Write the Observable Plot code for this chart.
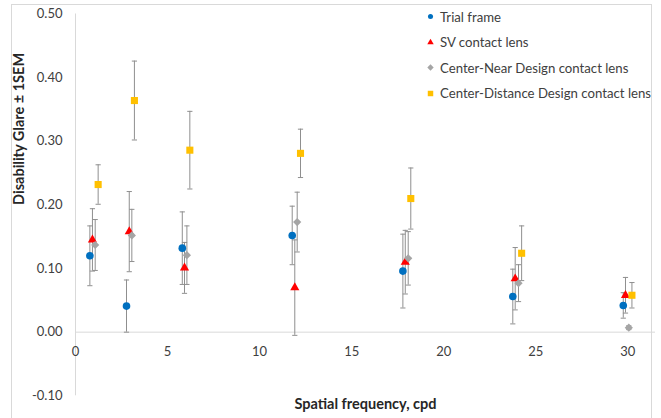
<!DOCTYPE html>
<html>
<head>
<meta charset="utf-8">
<script src="https://cdn.jsdelivr.net/npm/d3@7"></script>
<script src="https://cdn.jsdelivr.net/npm/@observablehq/plot@0.6"></script>
<style>
  body { margin: 0; background: #fff; }
  #wrap { position: relative; width: 661px; height: 418px; overflow: hidden; font-family: Lato, "Liberation Sans", sans-serif; }
  #border { position: absolute; left: 11px; top: 4px; width: 639px; height: 430px; border: 1px solid #d9d9d9; pointer-events: none; }
  #legend { position: absolute; left: 426px; top: 4px; font-size: 13.2px; color: #404040; }
  #legend .row { height: 25.5px; display: flex; align-items: center; white-space: nowrap; }
  #legend svg { margin-right: 5px; }
</style>
</head>
<body>
<div id="wrap"><div id="border"></div><div id="legend"></div></div>
<script>
// ---- data ----
const seriesNames = ["Trial frame", "SV contact lens", "Center-Near Design contact lens", "Center-Distance Design contact lens"];
const seriesColors = ["#0070C0", "#FF0000", "#A5A5A5", "#FFC000"];
const seriesSymbols = ["circle", "triangle", "diamond2", "square"];

const xTrial = [0.78, 2.77, 5.80, 11.77, 17.78, 23.75, 29.75];
const yTrial = [0.120, 0.041, 0.132, 0.152, 0.096, 0.056, 0.042];
const eTrial = [0.047, 0.041, 0.057, 0.046, 0.058, 0.043, 0.020];

const xSV = [0.92, 2.92, 5.92, 11.91, 17.91, 23.88, 29.87];
const ySV = [0.145, 0.158, 0.101, 0.070, 0.110, 0.084, 0.058];
const eSV = [0.049, 0.063, 0.040, 0.075, 0.050, 0.049, 0.028];

const xCN = [1.07, 3.06, 6.05, 12.04, 18.07, 24.06, 30.05];
const yCN = [0.137, 0.152, 0.121, 0.173, 0.116, 0.077, 0.007];
const eCN = [0.040, 0.041, 0.046, 0.047, 0.042, 0.029, 0.003];

const xCD = [1.23, 3.20, 6.21, 12.22, 18.21, 24.23, 30.22];
const yCD = [0.232, 0.364, 0.286, 0.281, 0.210, 0.124, 0.058];
const eCD = [0.031, 0.062, 0.061, 0.038, 0.048, 0.043, 0.020];

const xTicks = [0, 5, 10, 15, 20, 25, 30];
const yTicks = [-0.1, 0, 0.1, 0.2, 0.3, 0.4, 0.5];
const xLabel = "Spatial frequency, cpd";
const yLabel = "Disability Glare ± 1SEM";

// ---- build table ----
const groups = [[xTrial, yTrial, eTrial], [xSV, ySV, eSV], [xCN, yCN, eCN], [xCD, yCD, eCD]];
const rows = [];
groups.forEach(([xs, ys, es], s) => {
  xs.forEach((x, i) => rows.push({s, x, y: ys[i], lo: ys[i] - es[i], hi: ys[i] + es[i]}));
});

const capSymbol = { draw(ctx, size) { const w = 2.6; ctx.moveTo(-w, 0); ctx.lineTo(w, 0); } };
const errColor = "#8f8f8f";

const marks = [
  Plot.ruleX([0], {stroke: "#d9d9d9"}),
  Plot.ruleY([0], {stroke: "#d9d9d9"}),
  Plot.axisY(yTicks, {tickSize: 0, tickPadding: 13, tickFormat: d => d.toFixed(2), fontSize: 13, fill: "#404040", label: null}),
  Plot.text(xTicks, {x: d => d, y: 0, dy: 20, text: d => String(d), fontSize: 13, fill: "#404040"}),
  Plot.text([yLabel], {frameAnchor: "left", dx: -56, rotate: -90, fontWeight: "bold", fontSize: 14.5, fill: "#262626"}),
  Plot.text([xLabel], {frameAnchor: "bottom", dy: 13, fontWeight: "bold", fontSize: 14.5, fill: "#262626"}),
  Plot.ruleX(rows, {x: "x", y1: "lo", y2: "hi", stroke: errColor, strokeWidth: 1}),
  Plot.dot(rows, {x: "x", y: "lo", symbol: capSymbol, stroke: errColor, strokeWidth: 1}),
  Plot.dot(rows, {x: "x", y: "hi", symbol: capSymbol, stroke: errColor, strokeWidth: 1})
];
const sizes = [3.8, 3.4, 3.7, 4.0];
seriesNames.forEach((name, s) => {
  marks.push(Plot.dot(rows.filter(d => d.s === s), {x: "x", y: "y", symbol: seriesSymbols[s], fill: seriesColors[s], r: sizes[s], stroke: "none"}));
});

const chart = Plot.plot({
  width: 661,
  height: 418,
  marginLeft: 75,
  marginRight: 6,
  marginTop: 13.5,
  marginBottom: 22.7,
  style: {background: "transparent", fontFamily: "Lato, 'Liberation Sans', sans-serif"},
  x: {domain: [0, 31.5], axis: null},
  y: {domain: [-0.1, 0.5], axis: null},
  marks
});
document.getElementById("wrap").prepend(chart);

// ---- legend ----
const legend = d3.select("#legend");
seriesNames.forEach((name, s) => {
  const row = legend.append("div").attr("class", "row");
  const svg = row.append("svg").attr("width", 9).attr("height", 9);
  const sym = {circle: d3.symbolCircle, triangle: d3.symbolTriangle, diamond2: d3.symbolDiamond2, square: d3.symbolSquare}[seriesSymbols[s]];
  const sz = [20, 18, 26, 30][s];
  svg.append("path").attr("transform", "translate(4.5,4.5)").attr("d", d3.symbol(sym, sz)()).attr("fill", seriesColors[s]);
  row.append("span").text(name);
});
</script>
</body>
</html>
